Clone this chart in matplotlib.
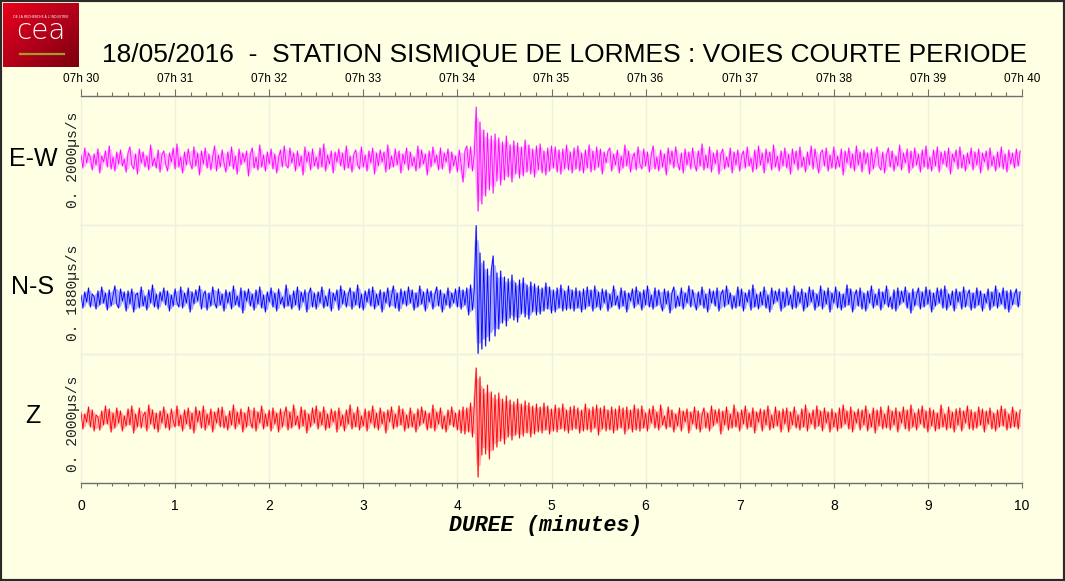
import numpy as np
import matplotlib
matplotlib.use("Agg")
import matplotlib.pyplot as plt
from matplotlib.patches import Rectangle
from matplotlib.colors import LinearSegmentedColormap

# ---------------- data ----------------
title_text = "18/05/2016  -  STATION SISMIQUE DE LORMES : VOIES COURTE PERIODE"
channels = ["E-W", "N-S", "Z"]
scale_labels = ["0. 2000\u00b5s/s", "0. 1880\u00b5s/s", "0. 2000\u00b5s/s"]
top_tick_labels = ["07h 30", "07h 31", "07h 32", "07h 33", "07h 34", "07h 35",
                   "07h 36", "07h 37", "07h 38", "07h 39", "07h 40"]
bottom_tick_labels = ["0", "1", "2", "3", "4", "5", "6", "7", "8", "9", "10"]
xlabel_text = "DUREE (minutes)"
sample_interval_s = 1.2   # one value every 1.2 s over 10 minutes

ew_trace = [
    5, -8, 12, -3, 7, 2, -10, 6, -5, 11, -13, 4, -2, 9, -7, 14, -9, 3, -11, 8, -4, 10, -6, 1, -12,
    7, 13, -5, -9, 6, -14, 11, -3, 8, -7, 4, -10, 15, -6, 2, -8, 10, -12, 5, 9, -4, -11, 7, -2, 12,
    -9, 16, -7, 3, -13, 8, -5, 11, -2, -9, 13, -6, 7, -15, 9, -4, 12, -8, 6, -10, 3, 14, -11, 5, -7,
    10, -3, -12, 8, -6, 13, -9, 4, -14, 11, -5, 7, -2, 9, -16, 6, 12, -8, 3, -10, 15, -7, 5, -11, 8,
    -4, 11, -9, 6, -13, 2, 10, -7, 14, -5, -8, 12, -3, 7, -11, 9, -6, 4, -15, 13, -2, 8, -10, 11, -6,
    3, -9, 12, -7, 16, -11, 5, -4, 9, -13, 8, -2, 11, -6, 7, -10, 14, -8, 4, -12, 6, 10, -5, -9, 13,
    -7, 5, -11, 9, -3, 12, -14, 7, -6, 10, -2, 8, -12, 15, -9, 4, -7, 11, -5, 9, -13, 6, -4, 12, -10,
    8, -6, 3, -11, 14, -8, 10, -4, 6, -15, 9, -7, 13, -3, 5, -10, 12, -9, 7, -2, 11, -13, 8, -6, 4,
    -12, 10, -5, -22, 9, 14, -8, 13, -11, 6, 53, -51, 38, -44, 30, -36, 27, -30, 24, -33, 26, -21, 22, -25, 18,
    -20, 24, -17, 15, -22, 19, -14, 17, -18, 13, -16, 20, -12, 15, -14, 11, -17, 14, -10, 16, -13, 9, -15, 12, -11,
    14, -8, 13, -12, 10, -14, 11, -9, 15, -10, 8, -13, 12, -9, 14, -11, 7, -13, 10, -8, 15, -12, 9, -10, 13,
    -7, 11, -14, 8, -3, 9, 12, -11, 6, -5, 10, -13, 4, -8, 15, -6, 9, -12, 2, 7, -10, 13, -4, -9, 11,
    -6, 8, -12, 5, 14, -9, 3, -11, 10, -7, 6, -15, 12, -4, 9, -8, 13, -2, -10, 7, -13, 11, -5, 8, -9,
    12, -3, -11, 9, -6, 16, -10, 5, -8, 13, -12, 7, -4, 10, -14, 6, 11, -9, 3, -7, 12, -13, 8, -5, 10,
    -11, 4, 9, -8, 13, -6, 2, -12, 10, -9, 14, -5, 7, -13, 11, -3, 8, -10, 15, -7, 4, -11, 9, -6, 12,
    -8, 6, -14, 11, -4, 9, -10, 13, -7, 3, -12, 8, -5, 14, -9, 11, -2, -13, 7, 10, -6, 12, -11, 5, -8,
    13, -9, 4, -7, 11, -15, 9, -3, 12, -8, 6, -11, 14, -5, 8, -12, 10, -4, 7, -14, 11, -9, 3, 13, -6,
    -10, 8, -13, 5, 12, -7, 9, -11, 4, -6, 15, -10, 7, -3, 11, -13, 9, -8, 12, -5, 6, -12, 10, -7, 14,
    -9, 3, -11, 10, -6, 13, -12, 8, -4, 9, -7, 12, -14, 6, -2, 10, -9, 13, -8, 5, -11, 7, -4, 12, -10,
    8, -5, 11, -13, 7, -2, 9, -10, 12, -6, 4, -11, 8, -7, 13, -9, 6, -12, 10, -4, 7, -8, 11, -6, 9,
]

ns_trace = [
    4, -9, 7, -3, 11, -8, 5, 2, -10, 8, -6, 12, -4, 6, -11, 9, -7, 3, 13, -5, -9, 10, -2, 7, -12,
    8, -5, 10, -13, 4, 6, -9, 12, -7, 3, -11, 9, -4, 14, -8, 5, -10, 7, -2, 11, -6, 8, -12, 4, -7,
    10, -3, -8, 12, -9, 6, -4, 11, -13, 7, -5, 9, -2, 13, -10, 4, 8, -11, 6, -7, 12, -3, -9, 10, -6,
    5, -12, 9, -4, 7, -10, 13, -6, 3, -8, 11, -14, 8, -2, 10, -7, 5, -11, 9, -5, 12, -9, 4, -13, 7,
    -3, 11, -8, 6, -12, 10, -5, 2, -9, 14, -7, 4, -10, 8, -6, 12, -11, 7, -3, 9, -13, 5, 11, -8, 6,
    -10, 7, -4, 12, -9, 3, -7, 10, -12, 6, -2, 9, -11, 13, -5, 8, -8, 4, 11, -10, 7, -6, 14, -9, 5,
    -11, 8, -3, 10, -7, 12, -10, 5, -6, 9, -13, 7, -4, 11, -8, 3, 13, -9, 6, -12, 10, -5, 8, -7, 12,
    -4, 9, -11, 6, -8, 13, -5, 7, -12, 10, -3, 8, -10, 4, 12, -7, 9, -13, 5, -6, 11, -9, 6, -4, 10,
    -8, 12, -10, 9, -6, 11, -16, 14, -11, 10, 74, -55, 46, -50, 38, -47, 30, -42, 28, 43, -37, 26, -30, 28, -24,
    22, -27, 20, -19, 24, -21, 16, -23, 19, -15, 21, -18, 14, -20, 17, -13, 15, -16, 13, -15, 11, -12, 16, -10, 12,
    -14, 9, -13, 11, -9, 14, -12, 8, -11, 13, -10, 9, -12, 11, -9, 8, -13, 10, -10, 12, -7, 9, -12, 13, -8,
    7, -11, 10, -4, 9, -12, 5, -8, 13, -6, 3, -10, 11, -7, 8, -13, 6, -2, 10, -9, 12, -5, 7, -11, 9,
    -6, 13, -8, 4, -10, 11, -7, 9, -3, -12, 10, -5, 8, -14, 6, 12, -9, 3, -7, 11, -10, 6, -4, 13, -8,
    9, -2, -11, 7, -6, 12, -9, 5, -13, 10, -4, 8, -7, 11, -12, 4, 9, -8, 13, -5, 6, -10, 3, -9, 12,
    -7, 10, -12, 6, -3, 9, -11, 14, -8, 5, -10, 7, -6, 12, -9, 4, -13, 11, -5, 8, -2, 10, -12, 7, -8,
    11, -6, 4, -10, 13, -9, 7, -4, 10, -12, 6, -8, 12, -3, 9, -11, 5, -7, 13, -10, 8, -5, 11, -13, 6,
    -4, 12, -9, 7, -11, 5, -8, 14, -6, 10, -13, 3, 9, -7, 11, -10, 6, -12, 8, -4, 13, -9, 5, -6, 10,
    -11, 7, -5, 13, -8, 2, -10, 9, -12, 11, -6, 8, -3, 12, -9, 6, -14, 10, -7, 4, 11, -10, 7, -8, 12,
    -5, 9, -13, 6, -7, 11, -4, 10, -9, 13, -11, 5, -6, 8, -12, 10, -3, 7, -10, 12, -8, 4, 9, -11, 6,
    -9, 11, -6, 8, -12, 5, -4, 10, -11, 7, -7, 13, -9, 6, -5, 11, -10, 8, -13, 9, -6, 4, 10, -8, 7,
]

z_trace = [
    7, -10, 5, -3, 12, -8, 9, -12, 4, 2, -11, 8, -6, 13, -5, 10, -13, 6, -9, 11, -4, 8, -12, 3, -7,
    10, -6, 13, -14, 5, -8, 11, -9, 3, 7, -12, 14, -5, 9, -10, 6, -13, 8, -4, 12, -9, 5, -11, 10, -2,
    -8, 13, -7, 4, -12, 9, -5, 11, -10, 6, -14, 12, -3, 8, -9, 13, -11, 5, -6, 10, -13, 7, -4, 11, -8,
    12, -9, 3, -11, 8, -6, 14, -10, 7, -5, 10, -13, 6, -8, 12, -2, -9, 11, -12, 7, -4, 13, -10, 5, -7,
    9, -12, 11, -5, 6, -13, 10, -8, 4, 12, -11, 7, -9, 14, -6, 3, -10, 12, -7, 9, -14, 5, -8, 11, -4,
    13, -10, 7, -6, 12, -11, 5, -9, 10, -3, 8, -13, 11, -7, 4, -12, 9, -5, 14, -10, 6, -8, 12, -11, 3,
    -7, 10, -12, 8, -4, 13, -9, 6, -11, 11, -5, 7, -14, 9, -3, 12, -10, 5, -8, 13, -6, 10, -12, 4, -9,
    11, -8, 5, -13, 10, -7, 12, -4, 8, -11, 6, -9, 14, -12, 7, -5, 11, -10, 3, -13, 9, -6, 12, -8, 6,
    -11, 9, -14, 12, -15, 11, -13, 16, -18, 14, 51, -58, 42, -36, 30, -35, 34, -40, 27, -31, 24, -28, 26, -22, 20,
    -25, 23, -18, 19, -21, 17, -16, 20, -19, 15, -17, 18, -14, 16, -18, 13, -15, 15, -13, 12, -14, 16, -11, 13, -15,
    10, -12, 14, -13, 11, -10, 15, -12, 9, -14, 12, -11, 13, -10, 11, -14, 9, -12, 15, -11, 10, -13, 12, -9, 14,
    -16, 11, -10, 13, -12, 9, -11, 12, -14, 10, -11, 13, -9, 11, -15, 12, -10, 9, -13, 14, -11, 10, -12, 13, -9,
    6, -12, 10, -4, 13, -9, 7, -11, 14, -6, 3, -10, 12, -8, 9, -13, 5, -7, 11, -12, 8, -3, 10, -14, 7,
    -5, 12, -10, 8, -13, 4, 11, -9, 6, -12, 13, -7, 9, -4, 10, -15, 8, -6, 12, -11, 5, -9, 14, -8, 7,
    -12, 9, -5, 13, -10, 6, -8, 11, -14, 7, -3, 10, -12, 9, -6, 13, -11, 4, -9, 12, -7, 8, -13, 10, -5,
    11, -13, 7, -6, 12, -9, 4, -11, 10, -8, 14, -12, 6, -5, 9, -10, 13, -7, 8, -12, 11, -4, 7, -13, 10,
    -8, 6, -12, 11, -9, 14, -5, 8, -10, 12, -13, 7, -4, 10, -11, 9, -6, 13, -12, 5, -8, 11, -14, 9, -7,
    12, -10, 5, -9, 13, -11, 8, -6, 11, -13, 7, -4, 12, -10, 9, -12, 14, -8, 6, -11, 10, -5, 13, -9, 8,
    -13, 11, -7, 9, -12, 6, -10, 14, -8, 5, -11, 12, -9, 7, -13, 10, -6, 11, -12, 8, -4, 13, -10, 9, -11,
    7, -9, 12, -6, 10, -13, 8, -5, 11, -10, 6, -12, 9, -8, 13, -7, 10, -11, 5, -9, 12, -8, 7, -10, 9,
]

traces = [ew_trace, ns_trace, z_trace]

# ---------------- style ----------------
BG = "#FFFFE4"
GRID = "#F0F0DF"
AXC = "#6E6E6E"
main_colors = ["#FF00FF", "#0000FF", "#FF0000"]
halo_colors = ["#FFB4FF", "#A8A8FF", "#FFAAAA"]
ylims = [(-65, 64), (-55, 74), (-64, 65)]

W, H = 1065, 581
fig = plt.figure(figsize=(W / 100, H / 100), dpi=100, facecolor=BG)


def fx(px):
    return px / W


def fy(py):
    return 1 - py / H


left, right = 81, 1022
tops = [96, 225, 354]
ph = 129

axes = []
for k in range(3):
    ax = fig.add_axes([fx(left), fy(tops[k] + ph), fx(right - left), ph / H])
    ax.set_facecolor("none")
    vals = np.asarray(traces[k], dtype=float)
    t = np.arange(len(vals)) * sample_interval_s / 60.0
    # light band spanning neighbouring extremes of the trace (dense-trace look)
    padded = np.concatenate([vals[:1], vals, vals[-1:]])
    hi = np.maximum.reduce([padded[:-2], padded[1:-1], padded[2:]])
    lo = np.minimum.reduce([padded[:-2], padded[1:-1], padded[2:]])
    for xv in range(11):
        ax.axvline(xv, color=GRID, lw=1.0, zorder=0)
    ax.fill_between(t, lo * 0.8, hi * 0.8, color=halo_colors[k], lw=0, zorder=1)
    ax.plot(t, vals, color=halo_colors[k], lw=1.2, zorder=2)
    ax.plot(t, vals, color=main_colors[k], lw=0.6, zorder=3)
    ax.set_xlim(0, 10)
    ax.set_ylim(*ylims[k])
    ax.set_yticks([])
    for s in ax.spines.values():
        s.set_color(GRID)
        s.set_linewidth(1.0)
    ax.tick_params(axis="x", which="both", bottom=False, top=False,
                   labelbottom=False, labeltop=False)
    axes.append(ax)

# top time axis
a0 = axes[0]
a0.spines["top"].set_color(AXC)
a0.xaxis.set_ticks_position("top")
a0.set_xticks(range(11))
a0.set_xticklabels(top_tick_labels, fontsize=8.5, family="Liberation Sans")
a0.set_xticks(np.arange(0, 10.0001, 1 / 6), minor=True)
a0.tick_params(axis="x", which="major", top=True, labeltop=True, direction="out",
               length=5, width=0.8, color=AXC, pad=3)
a0.tick_params(axis="x", which="minor", top=True, direction="out",
               length=3, width=0.8, color=AXC)

# bottom duration axis
a2 = axes[2]
a2.spines["bottom"].set_color(AXC)
a2.set_xticks(range(11))
a2.set_xticklabels(bottom_tick_labels, fontsize=10, family="Liberation Sans")
a2.set_xticks(np.arange(0, 10.0001, 1 / 6), minor=True)
a2.tick_params(axis="x", which="major", bottom=True, labelbottom=True, direction="out",
               length=3.6, width=0.8, color=AXC, pad=8)
a2.tick_params(axis="x", which="minor", bottom=True, direction="out",
               length=2, width=0.8, color=AXC)

# channel names and scale labels
name_y = [159, 287, 416]
scale_y = [160, 293, 424]
for k in range(3):
    fig.text(fx(33), fy(name_y[k]), channels[k], ha="center", va="center",
             fontsize=18, family="Liberation Sans", color="black")
    fig.text(fx(73), fy(scale_y[k]), scale_labels[k], ha="center", va="center",
             rotation=90, fontsize=10.5, family="Liberation Mono", color="#222222")

# title and x label
fig.text(fx(565), fy(55), title_text, ha="center", va="center",
         fontsize=19, family="Liberation Sans", color="black")
fig.text(fx(546), fy(526), xlabel_text, ha="center", va="center",
         fontsize=15.5, family="Liberation Mono", fontweight="bold",
         fontstyle="italic", color="black")

# CEA logo
lax = fig.add_axes([fx(3), fy(67), fx(76), 64 / H])
gx = np.linspace(0, 1, 64)
grad = (gx[None, :] + gx[:, None]) / 2
cm = LinearSegmentedColormap.from_list("cea", ["#E8001C", "#B5001A", "#7A0010"])
lax.imshow(grad, cmap=cm, extent=(0, 1, 0, 1), aspect="auto", origin="upper")
lax.text(0.5, 0.56, "cea", color="white", ha="center", va="center", fontsize=20,
         family="DejaVu Sans", fontweight="light")
lax.text(0.5, 0.78, "DE LA RECHERCHE \u00c0 L'INDUSTRIE", color="white", ha="center",
         va="center", fontsize=2.3, family="DejaVu Sans")
lax.plot([0.22, 0.8], [0.2, 0.2], color="#A89A2A", lw=1.6)
lax.set_xlim(0, 1)
lax.set_ylim(0, 1)
lax.axis("off")

# outer frame
fig.add_artist(Rectangle((0, 0), 1, 1, transform=fig.transFigure, fill=False,
                         edgecolor="#2A2A2A", lw=3))

fig.savefig("out.png", dpi=100, facecolor=BG)
